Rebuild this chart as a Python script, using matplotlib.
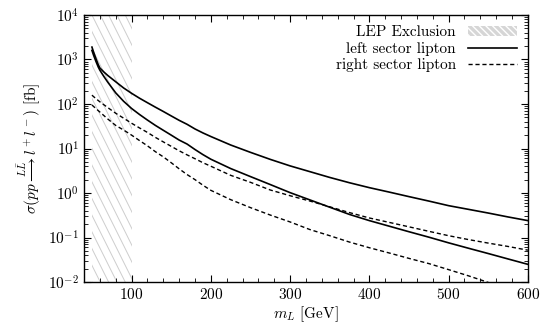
import matplotlib
matplotlib.use("Agg")
import matplotlib.pyplot as plt
import matplotlib.transforms as mtransforms
from matplotlib.patches import Patch
from matplotlib.lines import Line2D

plt.rcParams['font.family'] = 'serif'
plt.rcParams['font.serif'] = ['cmr10', 'DejaVu Serif']
plt.rcParams['mathtext.fontset'] = 'cm'
plt.rcParams['axes.formatter.use_mathtext'] = True
plt.rcParams['hatch.linewidth'] = 1.0

# LEP excluded mass range
lep_range = [50, 100]

# left sector lipton (two curves, solid)
left_upper_x = [50, 52, 55, 58, 60, 65, 70, 80, 90, 100, 110, 120, 130, 140, 150, 160, 170, 180, 190,
                200, 225, 250, 275, 300, 325, 350, 375, 400, 425, 450, 475, 500, 525, 550, 575, 600]
left_upper_y = [1900, 1480, 1050, 760, 645, 525, 437, 316, 229, 174, 135, 107, 85, 68, 54, 43, 35, 27.5, 22.4,
                18.6, 12.0, 8.2, 5.7, 4.07, 3.02, 2.24, 1.70, 1.32, 1.05, 0.83, 0.66, 0.52, 0.43, 0.355, 0.29, 0.24]

left_lower_x = [50, 52, 55, 58, 60, 65, 70, 80, 90, 100, 110, 120, 130, 140, 150, 160, 170, 180, 190,
                200, 225, 250, 275, 300, 325, 350, 375, 400, 425, 450, 475, 500, 525, 550, 575, 600]
left_lower_y = [1600, 1260, 910, 676, 575, 417, 309, 178, 115, 79.4, 58.2, 43.6, 33.1, 25.7, 20.0, 15.5, 12.6, 9.5, 7.3,
                5.75, 3.55, 2.34, 1.55, 1.02, 0.70, 0.48, 0.33, 0.24, 0.18, 0.135, 0.102, 0.076, 0.0575, 0.0437, 0.033, 0.025]

# right sector lipton (two curves, dashed)
right_upper_x = [50, 55, 60, 70, 80, 90, 100, 110, 120, 130, 140, 150, 160, 170, 180, 190,
                 200, 225, 250, 275, 300, 325, 350, 375, 400, 425, 450, 475, 500, 525, 550, 575, 600]
right_upper_y = [158, 132, 112, 83, 62, 48, 37, 29, 23, 17.8, 14.1, 11.2, 8.9, 7.2, 5.9, 4.8,
                 4.0, 2.5, 1.74, 1.17, 0.87, 0.66, 0.49, 0.363, 0.275, 0.219, 0.174, 0.138, 0.110, 0.090, 0.075, 0.063, 0.052]

right_lower_x = [50, 55, 60, 70, 80, 90, 100, 110, 120, 130, 140, 150, 160, 170, 180, 190,
                 200, 225, 250, 275, 300, 325, 350, 375, 400, 425, 450, 475, 500, 525, 545, 560]
right_lower_y = [95, 79, 66, 46, 33, 26, 20, 15.1, 11.5, 8.5, 6.5, 4.8, 3.5, 2.6, 2.0, 1.5,
                 1.15, 0.71, 0.47, 0.32, 0.224, 0.151, 0.110, 0.079, 0.059, 0.045, 0.034, 0.026, 0.019, 0.0138, 0.0105, 0.0085]

fig = plt.figure(figsize=(5.42, 3.33), dpi=100)
ax = fig.add_axes([0.155, 0.153, 0.819, 0.802])

ax.set_yscale('log')
ax.set_xlim(40, 600)
ax.set_ylim(1e-2, 1e4)

# LEP exclusion: steep grey hatch lines clipped to the excluded band
band = ax.axvspan(lep_range[0], lep_range[1], facecolor='none', edgecolor='none', zorder=0)
blend = mtransforms.blended_transform_factory(ax.transData, ax.transAxes)
hatch_run = 168.0   # horizontal travel of one hatch line over the axes height (GeV)
hatch_step = 10.5   # spacing between hatch lines (GeV)
xs = lep_range[0] - hatch_run
while xs < lep_range[1]:
    ln, = ax.plot([xs, xs + hatch_run], [1, 0], transform=blend, color='#cdcdcd', lw=0.7, zorder=0)
    ln.set_clip_path(band)
    xs += hatch_step

ax.plot(left_upper_x, left_upper_y, color='black', lw=1.2)
ax.plot(left_lower_x, left_lower_y, color='black', lw=1.2)
ax.plot(right_upper_x, right_upper_y, color='black', lw=1.0, linestyle=(0, (3, 2)))
ax.plot(right_lower_x, right_lower_y, color='black', lw=1.0, linestyle=(0, (3, 2)))

ax.set_xticks([100, 200, 300, 400, 500, 600])
ax.set_xticks(list(range(40, 601, 20)), minor=True)
ax.tick_params(which='both', direction='in', top=True, right=True, labelsize=11)
ax.tick_params(which='major', length=5, width=0.8)
ax.tick_params(which='minor', length=3, width=0.6)
for s in ax.spines.values():
    s.set_linewidth(1.0)

ax.set_xlabel(r'$m_L$ [GeV]', fontsize=11, labelpad=2)
ax.set_ylabel(r'$\sigma(pp \overset{L\bar{L}}{\longrightarrow} l^+l^-)$ [fb]', fontsize=11, labelpad=4)

handles = [
    Patch(facecolor='#d6d6d6', edgecolor='white', hatch='\\\\\\\\\\', linewidth=0),
    Line2D([], [], color='black', lw=1.2),
    Line2D([], [], color='black', lw=1.0, linestyle=(0, (3, 2))),
]
labels = ['LEP Exclusion', 'left sector lipton', 'right sector lipton']
ax.legend(handles, labels, loc='upper right', frameon=False, markerfirst=False,
          fontsize=11, handlelength=3.2, handleheight=0.55, handletextpad=0.8, labelspacing=0.15,
          borderaxespad=0.3)

fig.savefig('out.png', dpi=100)
